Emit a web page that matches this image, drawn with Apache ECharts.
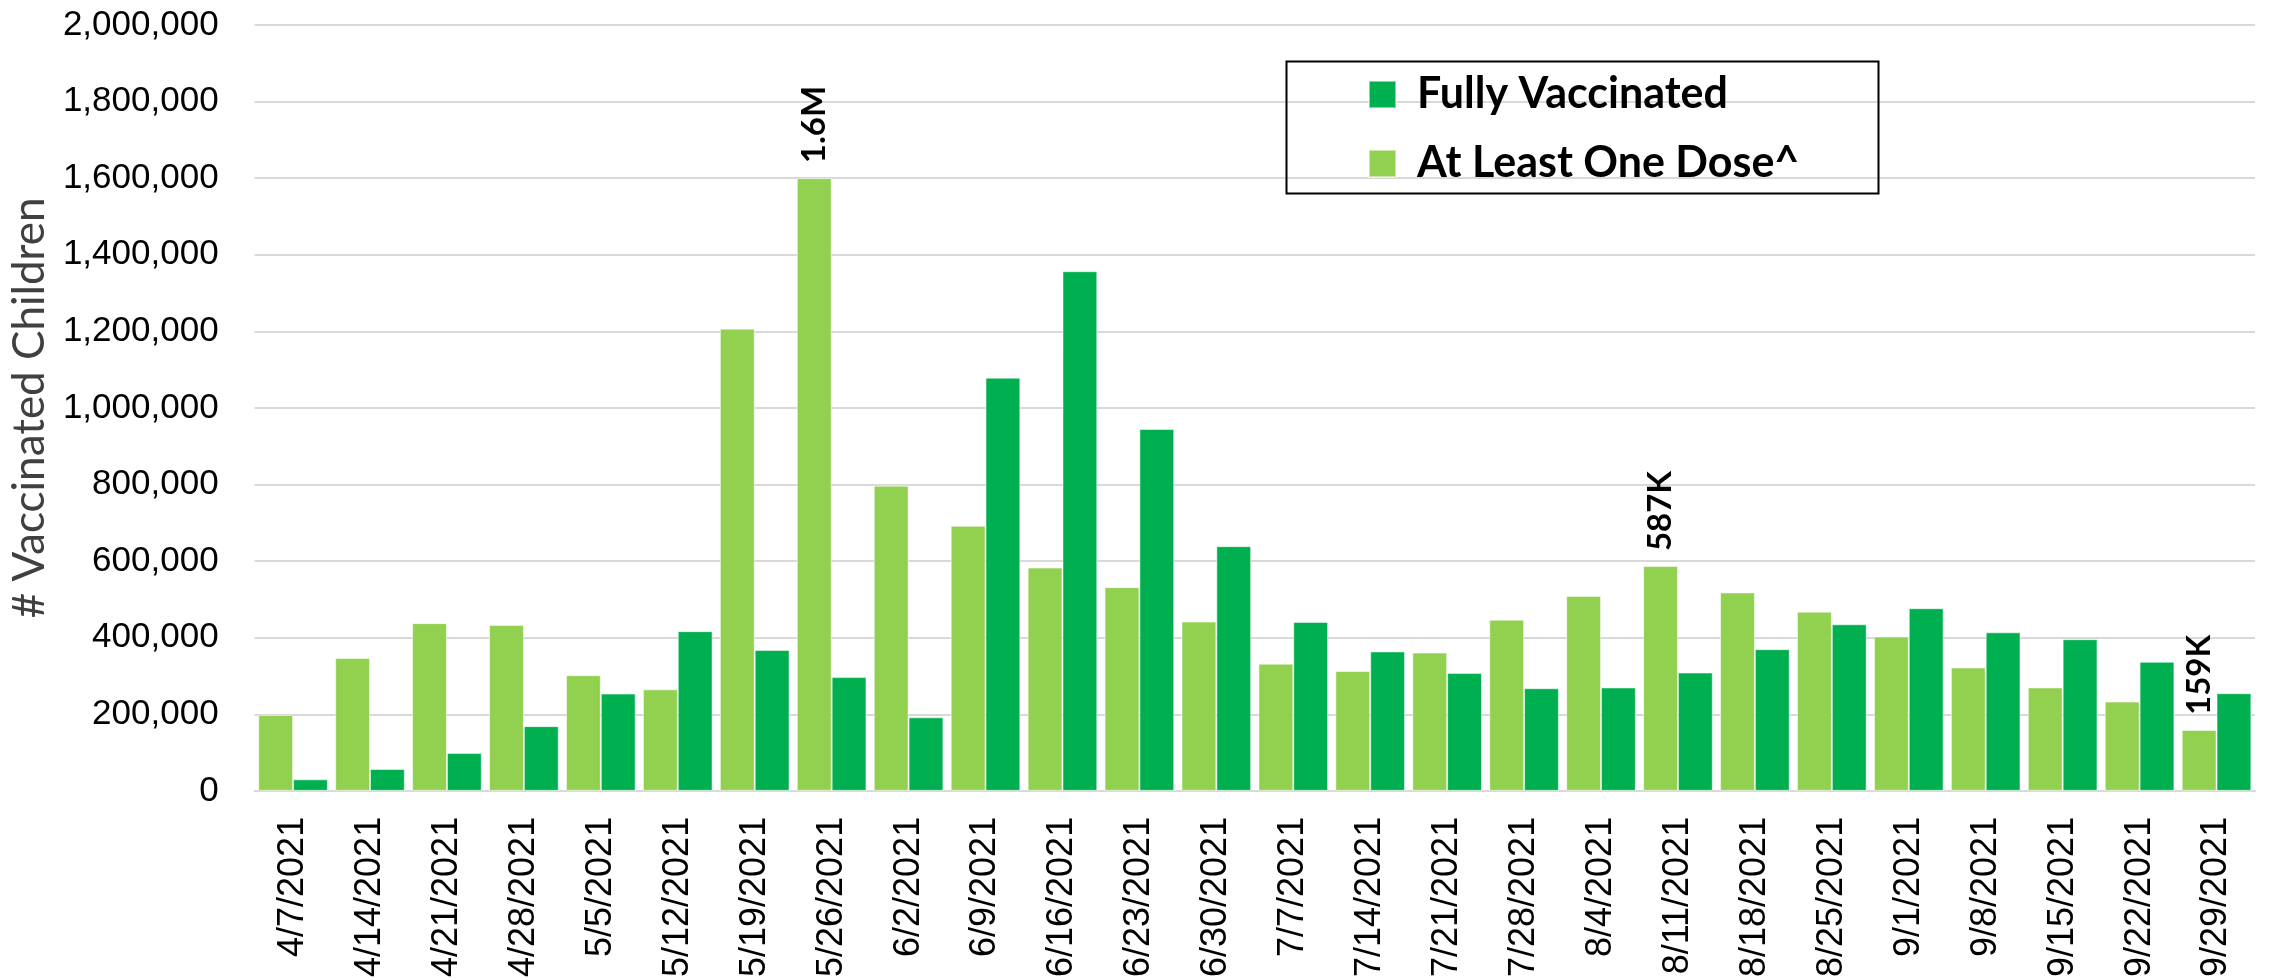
<!DOCTYPE html>
<html>
<head>
<meta charset="utf-8">
<title># Vaccinated Children</title>
<script src="https://cdn.jsdelivr.net/npm/echarts@6/dist/echarts.min.js"></script>
<style>
  html, body { margin: 0; padding: 0; background: #fff; }
  #chart { width: 2272px; height: 980px; }
</style>
</head>
<body>
<div id="chart"></div>
<script>
// week labels (x axis)
let weeks = [
  "4/7/2021", "4/14/2021", "4/21/2021", "4/28/2021", "5/5/2021", "5/12/2021",
  "5/19/2021", "5/26/2021", "6/2/2021", "6/9/2021", "6/16/2021", "6/23/2021",
  "6/30/2021", "7/7/2021", "7/14/2021", "7/21/2021", "7/28/2021", "8/4/2021",
  "8/11/2021", "8/18/2021", "8/25/2021", "9/1/2021", "9/8/2021", "9/15/2021",
  "9/22/2021", "9/29/2021"
];

let atLeastOneDose = [
  198000, 347000, 438000, 433000, 302000, 265000, 1207000, 1600000, 797000,
  692000, 583000, 532000, 442000, 332000, 313000, 361000, 447000, 509000,
  587000, 518000, 468000, 403000, 322000, 270000, 233000, 159000
];
let fullyVaccinated = [
  30000, 57000, 99000, 169000, 254000, 417000, 368000, 297000, 192000,
  1079000, 1357000, 945000, 639000, 441000, 364000, 308000, 268000, 270000,
  309000, 370000, 435000, 477000, 414000, 396000, 337000, 255000
];

// callouts on the "at least one dose" bars: [week index, text]
let callouts = [[7, "1.6M"], [18, "587K"], [25, "159K"]];

let yTicks = { min: 0, max: 2000000, interval: 200000 };

const LIGHT = "#92D050";
const DARK = "#00B050";
const GRID = "#D9D9D9";

let calloutMap = {};
callouts.forEach(([i, t]) => (calloutMap[i] = t));

let doseData = atLeastOneDose.map((v, i) => {
  if (!(i in calloutMap)) return v;
  return {
    value: v,
    label: {
      show: true,
      position: "top",
      rotate: 90,
      align: "left",
      verticalAlign: "middle",
      distance: 15,
      formatter: calloutMap[i],
      fontFamily: "Lato",
      fontWeight: "bold",
      fontSize: 33,
      color: "#000",
    },
  };
});

let option = {
  animation: false,
  backgroundColor: "#fff",
  grid: {
    left: 251,
    right: 17,
    top: 25,
    bottom: 188,
  },
  legend: {
    orient: "vertical",
    left: 1363,
    top: 68,
    itemWidth: 27,
    itemHeight: 27,
    itemGap: 26,
    icon: "rect",
    data: ["Fully Vaccinated", "At Least One Dose^"],
    textStyle: {
      fontFamily: "Lato",
      fontWeight: "bold",
      fontSize: 43,
      color: "#000",
      padding: [0, 0, 0, 16],
    },
  },
  graphic: [
    {
      type: "rect",
      left: 1284,
      top: 59,
      shape: { width: 592, height: 132 },
      style: { fill: "none", stroke: "#000", lineWidth: 2 },
      z: 10,
    },
  ],
  xAxis: {
    type: "category",
    data: weeks,
    axisTick: { show: false },
    axisLine: { lineStyle: { color: GRID, width: 2 } },
    axisLabel: {
      rotate: 90,
      margin: 26,
      interval: 0,
      fontFamily: "Liberation Sans",
      fontSize: 36,
      color: "#000",
    },
  },
  yAxis: {
    type: "value",
    min: yTicks.min,
    max: yTicks.max,
    interval: yTicks.interval,
    name: "# Vaccinated Children",
    nameLocation: "middle",
    nameRotate: 90,
    nameGap: 182,
    nameTextStyle: {
      fontFamily: "Lato",
      fontSize: 44,
      color: "#404040",
    },
    axisLine: { show: false },
    axisTick: { show: false },
    axisLabel: {
      margin: 36,
      fontFamily: "Liberation Sans",
      fontSize: 35,
      color: "#000",
      formatter: (v) => v.toLocaleString("en-US"),
    },
    splitLine: { lineStyle: { color: GRID, width: 2 } },
  },
  series: [
    {
      name: "At Least One Dose^",
      type: "bar",
      data: doseData,
      barGap: "0%",
      barCategoryGap: "9.5%",
      itemStyle: { color: LIGHT, borderColor: "rgba(255,255,255,0.5)", borderWidth: 1 },
    },
    {
      name: "Fully Vaccinated",
      type: "bar",
      data: fullyVaccinated,
      barGap: "0%",
      barCategoryGap: "9.5%",
      itemStyle: { color: DARK, borderColor: "rgba(255,255,255,0.5)", borderWidth: 1 },
    },
  ],
};

let myChart = echarts.init(document.getElementById("chart"));
myChart.setOption(option);
window.addEventListener("resize", () => myChart.resize());
</script>
</body>
</html>
